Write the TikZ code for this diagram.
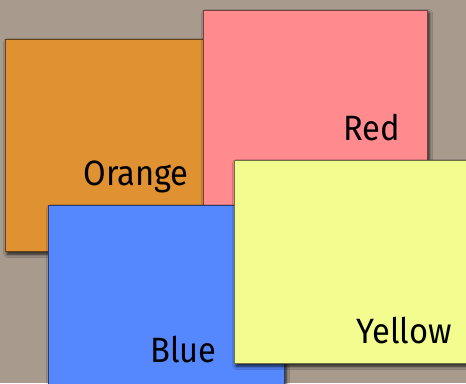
\documentclass[tikz,border=0pt]{standalone}
\usepackage{fontspec}
\setmainfont{Fira Sans}[FakeStretch=0.93]
\usepackage{xcolor}
\definecolor{bgcolor}{HTML}{A89B8E}
\definecolor{cardorange}{HTML}{E09232}
\definecolor{cardred}{HTML}{FF8B8F}
\definecolor{cardblue}{HTML}{5587FF}
\definecolor{cardyellow}{HTML}{F3FD8F}
\usetikzlibrary{shadows.blur}

\begin{document}
\begin{tikzpicture}[x=0.025cm, y=-0.025cm,
    card/.style={fill=#1, draw=#1!45!black, line width=0.6pt,
      blur shadow={shadow xshift=1.5pt, shadow yshift=-2.2pt,
        shadow blur radius=2.5pt, shadow opacity=85}},
    cardlabel/.style={anchor=base east, inner sep=0pt,
      font=\fontsize{25}{30}\selectfont}
]

  % Hintergrund
  \useasboundingbox (0,0) rectangle (466,383);
  \fill[bgcolor] (0,0) rectangle (466,383);
  \clip (0,0) rectangle (466,383);

  % Karten, von hinten nach vorne
  \draw[card=cardorange] (5,39) rectangle (215,251);
  \node[cardlabel] (orangetext) at (189,185) {Orange};

  \draw[card=cardred] (203,10) rectangle (427,206);
  \node[cardlabel] (redtext) at (400,140) {Red};

  \draw[card=cardblue] (48,205) rectangle (284,400);
  \node[cardlabel] (bluetext) at (217,362) {Blue};

  \draw[card=cardyellow] (234,160) rectangle (480,363);
  \node[cardlabel] (yellowtext) at (452,343) {Yellow};

\end{tikzpicture}
\end{document}
